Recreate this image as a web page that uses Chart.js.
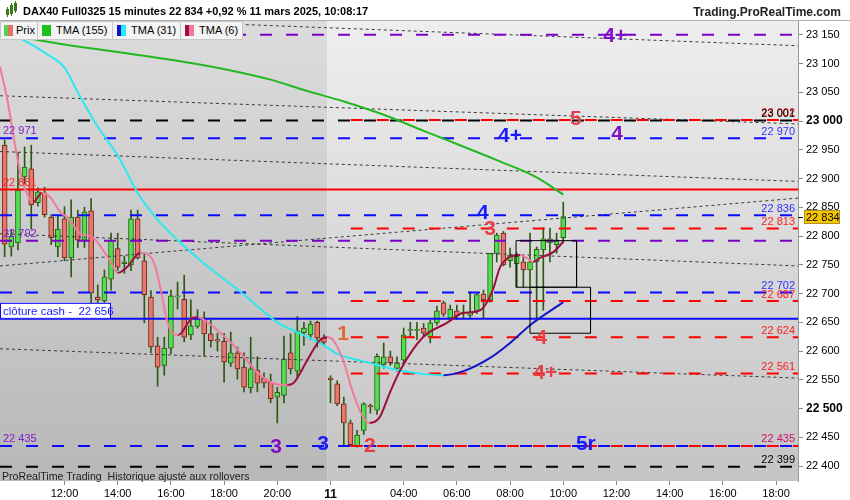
<!DOCTYPE html>
<html>
<head>
<meta charset="utf-8">
<script src="https://cdn.jsdelivr.net/npm/chart.js@4.4.1/dist/chart.umd.min.js"></script>
<style>
body { margin: 0; background: #fff; font-family: "Liberation Sans", Arial, sans-serif; }
#wrap { position: relative; width: 850px; height: 500px; overflow: hidden; }
#c { position: absolute; left: 0; top: 0; }
.t { position: absolute; white-space: pre; }
#title { left: 23px; top: 5px; font-weight: bold; font-size: 11px; color: #000; }
#site { right: 9px; top: 5px; font-weight: bold; font-size: 12px; color: #222; }
.lg { position: absolute; top: 21px; height: 19px; background: #f3f3f3; border: 1px solid #c6c6c6; box-sizing: border-box; font-size: 11px; line-height: 17px; color: #000; }
.lg span.sw { position: absolute; top: 3px; width: 9px; height: 11px; }
.lg span.tx { position: absolute; top: 0; }
#foot { left: 2px; top: 470px; font-size: 10.6px; color: #222; }
</style>
</head>
<body>
<div id="wrap">
  <canvas id="c" width="850" height="500"></canvas>
  <div class="t" id="title">DAX40 Full0325 15 minutes 22 834 +0,92 % 11 mars 2025, 10:08:17</div>
  <div class="t" id="site">Trading.ProRealTime.com</div>
  <div class="lg" style="left:0;width:38px"><span class="sw" style="left:3px;background:linear-gradient(90deg,#4fd84f 50%,#e8706a 50%)"></span><span class="tx" style="left:15px">Prix</span></div>
  <div class="lg" style="left:37px;width:76px"><span class="sw" style="left:4px;background:#19c419"></span><span class="tx" style="left:18px">TMA (155)</span></div>
  <div class="lg" style="left:112px;width:69px"><span class="sw" style="left:4px;background:linear-gradient(90deg,#1010d0 50%,#22eef2 50%)"></span><span class="tx" style="left:18px">TMA (31)</span></div>
  <div class="lg" style="left:180px;width:63px"><span class="sw" style="left:4px;background:linear-gradient(90deg,#a0103c 50%,#f2789a 50%)"></span><span class="tx" style="left:18px">TMA (6)</span></div>
  <div class="t" id="foot">ProRealTime Trading  Historique ajusté aux rollovers</div>
</div>
<script>
// 15 min candles, index 0 = 10 mars 12:00, index 40 = 11 mars 01:15
const candleStart = -9;
const candleOpen = [22958,22781,22788,22903,22917,22858,22875,22833,22781,
  22830,22762,22833,22793,22844,22694,22687,22725,22778,22752,22750,22830,22757,
  22694,22609,22575,22605,22694,22690,22628,22643,22656,22630,22620,22617,22579,22597,22572,22536,22567,22553,22546,22520,22523,22597,22565,22632,22628,22650,22623,
  22553,22543,22508,22475,22435,22462,22505,22497,22576,22590,22570,22584,22636,22636,
  22640,22624,22649,22684,22657,22670,22666,22662,22670,22699,22689,22770,22805,22757,22752,22755,22741,22755,22776,22788,22785,22797];
const candleHigh = [22967,22811,22945,22955,22958,22884,22885,22837,22835,
  22851,22863,22845,22850,22865,22715,22741,22805,22805,22765,22845,22845,22770,
  22705,22624,22624,22706,22720,22732,22689,22672,22668,22654,22631,22631,22633,22607,22597,22624,22590,22562,22560,22537,22626,22630,22660,22650,22652,22652,22628,
  22557,22548,22520,22480,22462,22510,22508,22595,22614,22600,22590,22640,22650,22650,
  22648,22654,22678,22687,22680,22680,22680,22703,22700,22706,22770,22805,22808,22779,22771,22764,22805,22781,22814,22814,22805,22859];
const candleLow = [22764,22765,22776,22890,22812,22852,22833,22785,22764,
  22757,22729,22780,22780,22684,22670,22680,22706,22740,22735,22740,22760,22649,
  22597,22539,22558,22595,22673,22616,22620,22640,22591,22607,22600,22546,22573,22551,22529,22527,22529,22536,22510,22475,22510,22560,22555,22610,22620,22607,22610,
  22510,22505,22437,22435,22433,22455,22492,22490,22570,22575,22565,22580,22624,22620,
  22625,22614,22645,22660,22652,22655,22657,22657,22665,22657,22685,22755,22748,22746,22711,22711,22711,22657,22671,22755,22770,22788];
const candleClose = [22786,22800,22880,22920,22854,22877,22837,22797,22812,
  22762,22833,22793,22842,22701,22689,22729,22792,22746,22755,22830,22762,22698,
  22607,22572,22605,22696,22696,22624,22644,22657,22630,22618,22617,22581,22597,22569,22537,22569,22544,22544,22517,22528,22586,22569,22635,22640,22647,22623,22615,
  22550,22508,22475,22437,22454,22508,22503,22591,22590,22580,22580,22628,22637,22636,
  22631,22649,22670,22664,22673,22661,22666,22668,22698,22689,22770,22802,22750,22767,22765,22741,22755,22777,22795,22795,22793,22834];

// moving averages (x = candle index)
const tma155X = [-10,-4,0,8,19,25,31,36,42,48,54,59,65,71,75];
const tma155Y = [23157,23141,23133,23120,23101,23088,23072,23054,23034,23011,22983,22960,22932,22902,22872];
const tma31X = [-10,-6,-3,0,2,5,8,11,14,20,27,32,35,39,41,45,50,55,57,60,64,67,70,75];
const tma31Y = [23160,23140,23119,23093,23050,22990,22940,22875,22828,22762,22698,22650,22633,22610,22595,22582,22567,22559,22558,22565,22588,22614,22645,22685];
const tma6X = [-9.7,-8.5,-7.4,-6.5,-5.3,-4.7,-3.4,-2.2,-0.5,0.4,2.3,4.3,6.8,8,9.4,11.4,13.3,14.4,15.4,16.2,17.1,19.3,20.1,21.4,23.8,26.4,28.9,31.4,33.5,34.4,36.5,38.4,39.5,40.4,41.9,43.4,44.9,45.9,47.4,48.9,50.5,53.9,57.5,59.9,62.5,64.4,65.5,67,68.5,69.5,70.5,71.5,73.5,75];
const tma6Y = [23095,23031,22955,22903,22866,22859,22875,22868,22840,22833,22805,22797,22758,22736,22746,22771,22758,22711,22654,22631,22628,22658,22659,22651,22628,22598,22564,22544,22541,22544,22584,22619,22624,22619,22584,22527,22485,22475,22485,22527,22567,22624,22649,22666,22671,22706,22746,22764,22767,22762,22755,22762,22772,22790];

// levels
const blueDashLevels = [22970, 22836, 22702, 22435];
const redDashLevels = [23002, 22813, 22687, 22624, 22561, 22435];
const purpleDashLevels = [23150, 22792];
const blackDashLevels = [23001, 22399];
const redSolidLevel = 22881;
const cashLevel = 22656;
// dotted trend lines: price at left edge / right edge
const trendFrom = [23184, 23044, 22947, 22748, 22804, 22604];
const trendTo = [23131, 22995, 22895, 22866, 22748, 22553];
// rectangles
const boxLeft = [67.9, 70.0], boxRight = [77.0, 79.1], boxTop = [22792, 22711], boxBottom = [22711, 22631];

const rightLabels = ['23 002','23 001','22 970','22 836','22 813','22 702','22 687','22 624','22 561','22 435','22 399'];
const rightLabelPrices = [23002,23001,22970,22836,22813,22702,22687,22624,22561,22435,22399];
const rightLabelColors = ['#ff2020','#000','#3030ff','#3030ff','#ff2020','#3030ff','#ff2020','#ff2020','#ff2020','#cc1070','#000'];
const leftLabels = ['22 971','22 881','22 792','22 435'];
const leftLabelPrices = [22971,22881,22792,22435];
const leftLabelColors = ['#8020d0','#ff2020','#8020d0','#8020d0'];

const markTexts = ['4+','5','4+','4','4','3','1','4','4+','3','3','2','5r'];
const markIdx = [82.8,76.9,67,83.1,62.9,64,41.9,71.7,72.3,31.8,38.9,45.9,78.4];
const markPrices = [23150,23005,22976,22979,22842,22814,22631,22624,22563,22435,22440,22436,22440];
const markColors = ['#8010c8','#e84048','#1a1aff','#8010c8','#1a1aff','#e84048','#e0683a','#e84048','#e84048','#8010c8','#1a1aff','#e83a40','#1a1aff'];

const priceTicks = [22400,22450,22500,22550,22600,22650,22700,22750,22800,22850,22900,22950,23000,23050,23100,23150];
const timeTickIdx = [0,8,16,24,32,40,51,59,67,75,83,91,99,107];
const timeTickLabels = ['12:00','14:00','16:00','18:00','20:00','11','04:00','06:00','08:00','10:00','12:00','14:00','16:00','18:00'];
const dayBreakIdx = 39.5;

const xMin = -9.7, xMax = 110.3, yMin = 22374, yMax = 23174;
const FONT = '"Liberation Sans", Arial, sans-serif';
const fmt = v => String(v).replace(/\B(?=(\d{3})+$)/, ' ');

const idx = candleOpen.map((_, k) => candleStart + k);
const isUp = candleClose.map((c, k) => c >= candleOpen[k]);

const datasets = [];
datasets.push({
  type: 'bar', data: idx.map((x, k) => ({ x, y: [candleLow[k], candleHigh[k]] })),
  backgroundColor: '#2d5a12', barThickness: 1, grouped: false, order: 100
});
datasets.push({
  type: 'bar', data: idx.map((x, k) => ({ x, y: [candleOpen[k], candleClose[k]] })),
  backgroundColor: isUp.map(u => u ? '#4fe04f' : '#e8786a'),
  borderColor: isUp.map(u => u ? '#2d5a12' : '#6a2a1a'),
  borderWidth: 1, borderSkipped: false, barThickness: 5, minBarLength: 1, grouped: false, order: 99
});

function hline(v, from, color, dash, offset) {
  return { type: 'line', data: [{ x: from, y: v }, { x: xMax, y: v }], borderColor: color, borderWidth: 2,
    borderDash: dash, borderDashOffset: offset || 0, pointRadius: 0, order: 50 };
}
const DASH = [12, 14];
trendFrom.forEach((v, k) => datasets.push({ type: 'line', data: [{ x: xMin, y: v }, { x: xMax, y: trendTo[k] }],
  borderColor: '#3a3a3a', borderWidth: 1, borderDash: [3, 3], pointRadius: 0, order: 60 }));
blackDashLevels.forEach(v => datasets.push(hline(v, xMin, '#000', DASH)));
blueDashLevels.forEach(v => datasets.push(hline(v, xMin, '#0a0aff', DASH)));
purpleDashLevels.forEach(v => datasets.push(hline(v, xMin, '#7a00c8', DASH)));
redDashLevels.forEach(v => datasets.push(hline(v, 42.9, '#ff0000', DASH, 25)));
datasets.push(hline(redSolidLevel, xMin, '#ff0000', []));
datasets.push(hline(cashLevel, xMin, '#0a0aff', []));

boxLeft.forEach((l, k) => datasets.push({ type: 'line',
  data: [{ x: l, y: boxTop[k] }, { x: boxRight[k], y: boxTop[k] }, { x: boxRight[k], y: boxBottom[k] }, { x: l, y: boxBottom[k] }, { x: l, y: boxTop[k] }],
  borderColor: '#000', borderWidth: 1, pointRadius: 0, order: 5 }));

datasets.push({ type: 'line', data: tma155X.map((x, k) => ({ x, y: tma155Y[k] })), borderColor: '#22b822', borderWidth: 2,
  pointRadius: 0, cubicInterpolationMode: 'monotone', order: 10 });
datasets.push({ type: 'line', data: tma31X.map((x, k) => ({ x, y: tma31Y[k] })), borderWidth: 2,
  pointRadius: 0, cubicInterpolationMode: 'monotone', order: 10,
  segment: { borderColor: c => c.p1.parsed.y > c.p0.parsed.y ? '#1414c8' : '#2ee8f0' } });
datasets.push({ type: 'line', data: tma6X.map((x, k) => ({ x, y: tma6Y[k] })), borderWidth: 2,
  pointRadius: 0, cubicInterpolationMode: 'monotone', order: 9,
  segment: { borderColor: c => c.p1.parsed.y > c.p0.parsed.y ? '#9e0e3e' : '#f27a9a' } });

const bgPlugin = {
  id: 'bg',
  beforeDraw(chart) {
    const { ctx, chartArea: a, scales: { x } } = chart;
    ctx.save();
    ctx.fillStyle = '#fff';
    ctx.fillRect(0, 0, chart.width, chart.height);
    const xb = x.getPixelForValue(dayBreakIdx);
    let g = ctx.createLinearGradient(0, a.top, 0, a.bottom);
    g.addColorStop(0, '#dcdcdc'); g.addColorStop(1, '#b8b8b8');
    ctx.fillStyle = g; ctx.fillRect(a.left, a.top, xb - a.left, a.bottom - a.top);
    g = ctx.createLinearGradient(0, a.top, 0, a.bottom);
    g.addColorStop(0, '#eeeeee'); g.addColorStop(1, '#c4c4c4');
    ctx.fillStyle = g; ctx.fillRect(xb, a.top, a.right - xb, a.bottom - a.top);
    ctx.fillStyle = '#b0b0b0'; ctx.fillRect(0, a.top - 1, chart.width, 1);
    // header icon
    ctx.fillStyle = '#3a7a1a';
    [[6, 9, 6], [10, 5, 9], [14, 3, 8]].forEach(([px, py, h]) => { ctx.fillRect(px, py, 3, h); ctx.fillRect(px + 1, py - 2, 1, h + 4); });
    ctx.restore();
  },
  afterDatasetsDraw(chart) {
    const { ctx, chartArea: a, scales: { x, y } } = chart;
    ctx.save();
    ctx.font = '11px ' + FONT;
    ctx.textBaseline = 'bottom';
    ctx.textAlign = 'right';
    rightLabels.forEach((t, k) => { ctx.fillStyle = rightLabelColors[k]; ctx.fillText(t, a.right - 3, y.getPixelForValue(rightLabelPrices[k]) - 1); });
    ctx.textAlign = 'left';
    leftLabels.forEach((t, k) => { ctx.fillStyle = leftLabelColors[k]; ctx.fillText(t, 3, y.getPixelForValue(leftLabelPrices[k]) - 1); });
    // clôture cash box
    const cy = y.getPixelForValue(cashLevel);
    ctx.fillStyle = '#fff'; ctx.fillRect(0, cy - 16, 111, 16);
    ctx.strokeStyle = '#0a0aff'; ctx.lineWidth = 1; ctx.strokeRect(0.5, cy - 15.5, 110, 15);
    ctx.fillStyle = '#1a1aff'; ctx.font = '11.5px ' + FONT; ctx.textBaseline = 'middle';
    ctx.fillText('clôture cash -  ' + fmt(cashLevel), 3, cy - 7.5);
    // big level marks
    ctx.font = 'bold 21px ' + FONT; ctx.textAlign = 'center';
    markTexts.forEach((t, k) => { ctx.fillStyle = markColors[k]; ctx.fillText(t, x.getPixelForValue(markIdx[k]), y.getPixelForValue(markPrices[k]) + 1); });
    ctx.restore();
  },
  afterDraw(chart) {
    const { ctx, chartArea: a, scales: { y } } = chart;
    const last = candleClose[candleClose.length - 1];
    const py = Math.round(y.getPixelForValue(last));
    ctx.save();
    ctx.fillStyle = '#000'; ctx.fillRect(a.right, py, 5, 1);
    ctx.fillStyle = '#f7c400'; ctx.fillRect(804, py - 7, 36, 14);
    ctx.strokeStyle = '#b09020'; ctx.strokeRect(804.5, py - 6.5, 35, 13);
    ctx.fillStyle = '#000'; ctx.font = '11px ' + FONT; ctx.textBaseline = 'middle'; ctx.textAlign = 'left';
    ctx.fillText(fmt(last), 806, py + 0.5);
    ctx.restore();
  }
};

new Chart(document.getElementById('c'), {
  type: 'bar',
  data: { datasets },
  plugins: [bgPlugin],
  options: {
    responsive: false, animation: false, events: [],
    layout: { padding: { top: 21, left: 0, right: 0, bottom: 0 } },
    plugins: { legend: { display: false }, tooltip: { enabled: false } },
    scales: {
      x: {
        type: 'linear', min: xMin, max: xMax, offset: false,
        afterFit: s => { s.height = 19; },
        afterBuildTicks: s => { s.ticks = timeTickIdx.map(v => ({ value: v })); },
        grid: { drawOnChartArea: false, drawTicks: true, tickLength: 4, color: '#888', offset: false },
        border: { display: false },
        ticks: {
          autoSkip: false, maxRotation: 0, padding: 2, color: '#000',
          callback: v => timeTickLabels[timeTickIdx.indexOf(v)],
          font: c => ({ family: FONT, size: c.tick && c.tick.value === 40 ? 12 : 11, weight: c.tick && c.tick.value === 40 ? 'bold' : 'normal' })
        }
      },
      y: {
        type: 'linear', position: 'right', min: yMin, max: yMax,
        afterFit: s => { s.width = 52; },
        afterBuildTicks: s => { s.ticks = priceTicks.map(v => ({ value: v })); },
        grid: { drawOnChartArea: false, drawTicks: true, tickLength: 5, color: '#888' },
        border: { display: true, color: '#999' },
        ticks: {
          padding: 3, color: '#000',
          callback: v => fmt(v),
          font: c => ({ family: FONT, size: c.tick && c.tick.value % 500 === 0 ? 12 : 11, weight: c.tick && c.tick.value % 500 === 0 ? 'bold' : 'normal' })
        }
      }
    }
  }
});
</script>
</body>
</html>
